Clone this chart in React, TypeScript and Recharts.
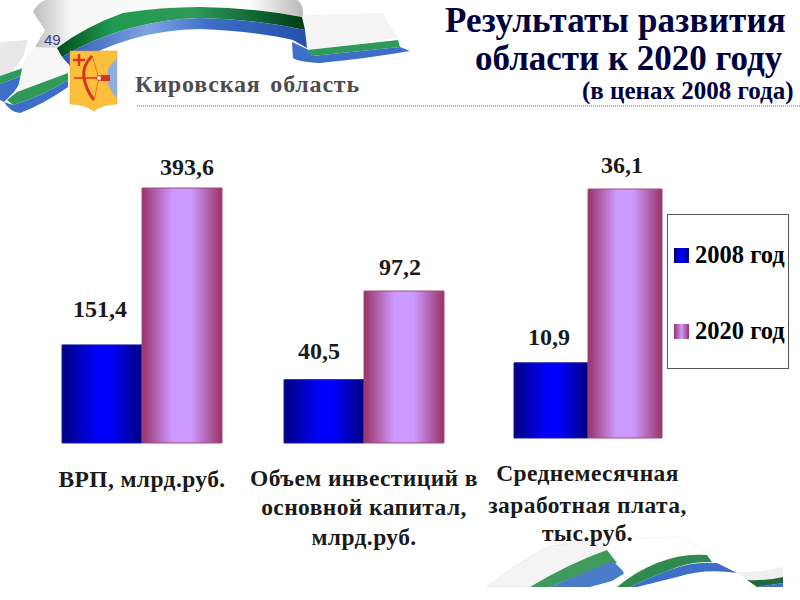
import { BarChart, Bar, XAxis, YAxis, LabelList } from 'recharts';

const categories = [
  ['ВРП, млрд.руб.'],
  ['Объем инвестиций в', 'основной капитал,', 'млрд.руб.'],
  ['Среднемесячная', 'заработная плата,', 'тыс.руб.'],
];
const values2008 = [151.4, 40.5, 10.9];
const values2020 = [393.6, 97.2, 36.1];
const seriesNames = ['2008 год', '2020 год'];

const SERIF = '"Liberation Serif", serif';

// each panel has its own scale, like the three separate charts on the slide
const panels = [
  { left: 22, top: 140, width: 240, side: 40, plotTop: 48, plotH: 255, lines: [44], off2008: [-2, -28], off2020: [5, -13] },
  { left: 244, top: 140, width: 240, side: 40, plotTop: 151, plotH: 152, lines: [43, 72, 102], off2008: [-5, -21], off2020: [-4, -16] },
  { left: 464, top: 140, width: 247, side: 50, plotTop: 49, plotH: 249, lines: [43, 75, 103], off2008: [-2, -18], off2020: [-3, -16] },
];

const fmt = (v: number) => String(v).replace('.', ',');

function valueLabel(off: number[]) {
  return (p: any) => (
    <text
      x={p.x + p.width / 2 + off[0]}
      y={p.y + off[1]}
      textAnchor="middle"
      fontFamily={SERIF}
      fontWeight="bold"
      fontSize={24}
      fill="#1a1a1a"
    >
      {fmt(p.value)}
    </text>
  );
}

function Panel({ index }: { index: number }) {
  const cfg = panels[index];
  const rows = [
    { name: String(index), a: values2008[index], b: values2020[index] },
  ];
  const lines = categories[index];
  const height = cfg.plotTop + cfg.plotH + 110;
  return (
    <div style={{ position: 'absolute', left: cfg.left, top: cfg.top }}>
      <BarChart
        width={cfg.width}
        height={height}
        data={rows}
        barGap={0}
        barCategoryGap={0}
        margin={{ top: cfg.plotTop, right: cfg.side, bottom: 0, left: cfg.side }}
      >
        <XAxis
          dataKey="name"
          height={110}
          axisLine={false}
          tickLine={false}
          interval={0}
          tick={() => (
            <g>
              {lines.map((line, i) => (
                <text
                  key={line}
                  x={cfg.width / 2}
                  y={cfg.plotTop + cfg.plotH + cfg.lines[i]}
                  textAnchor="middle"
                  fontFamily={SERIF}
                  fontWeight="bold"
                  fontSize={23.5}
                  letterSpacing={0.4}
                  fill="#1a1a1a"
                >
                  {line}
                </text>
              ))}
            </g>
          )}
        />
        <YAxis hide domain={[0, values2020[index]]} />
        <Bar dataKey="a" name={seriesNames[0]} fill="url(#blueBar)" stroke="#1a1aa0" strokeWidth={1} isAnimationActive={false}>
          <LabelList dataKey="a" content={valueLabel(cfg.off2008)} />
        </Bar>
        <Bar dataKey="b" name={seriesNames[1]} fill="url(#purpleBar)" stroke="#a04a80" strokeWidth={1} isAnimationActive={false}>
          <LabelList dataKey="b" content={valueLabel(cfg.off2020)} />
        </Bar>
      </BarChart>
    </div>
  );
}

function Decor() {
  return (
    <svg width={800} height={600} style={{ position: 'absolute', left: 0, top: 0 }}>
      <defs>
        <linearGradient id="blueBar" x1="0" y1="0" x2="1" y2="0">
          <stop offset="0%" stopColor="#00007f" />
          <stop offset="45%" stopColor="#0000ff" />
          <stop offset="60%" stopColor="#0000ff" />
          <stop offset="100%" stopColor="#00007f" />
        </linearGradient>
        <linearGradient id="purpleBar" x1="0" y1="0" x2="1" y2="0">
          <stop offset="0%" stopColor="#993366" />
          <stop offset="38%" stopColor="#cc99ff" />
          <stop offset="62%" stopColor="#cc99ff" />
          <stop offset="100%" stopColor="#993366" />
        </linearGradient>
        <linearGradient id="whiteBand" x1="0" y1="0" x2="1" y2="0">
          <stop offset="0%" stopColor="#bdbdbd" />
          <stop offset="14%" stopColor="#f6f6f6" />
          <stop offset="80%" stopColor="#ffffff" />
          <stop offset="100%" stopColor="#b8b8b8" />
        </linearGradient>
        <linearGradient id="greenBand" x1="0" y1="0" x2="1" y2="0">
          <stop offset="0%" stopColor="#004d1c" />
          <stop offset="22%" stopColor="#1f9a50" />
          <stop offset="55%" stopColor="#2f9a58" />
          <stop offset="85%" stopColor="#0c5c2c" />
          <stop offset="100%" stopColor="#003a14" />
        </linearGradient>
        <linearGradient id="blueBand" x1="0" y1="0" x2="1" y2="0">
          <stop offset="0%" stopColor="#2a58b4" />
          <stop offset="35%" stopColor="#7fa4e2" />
          <stop offset="60%" stopColor="#3d6fc8" />
          <stop offset="100%" stopColor="#234fa8" />
        </linearGradient>
      </defs>

      {/* top ribbon */}
      <path d="M0 42 L28 40 L23 57 L12 72 L0 76 Z" fill="#e8e8e8" />
      <path d="M0 76 L23 68 L26 74 L0 84 Z" fill="#2f9a58" />
      <path d="M0 84 L26 74 L14 92 L4 102 L0 100 Z" fill="#3d6fc8" />
      <path d="M35 47 L45 30 L33 12 Q38 2 46 0 L297 0 Q304 4 303 17 Q255 8 200 7 Q120 8 57 48 Q46 50 35 47 Z" fill="url(#whiteBand)" />
      <path d="M35 47 L57 48 L68 73 L17 92 L24 60 Z" fill="#f6f6f6" />
      <path d="M303 15 L383 13 L398 38 L307 50 L292 42 Z" fill="#f4f4f4" />
      <path d="M57 48 Q86 26 123 13 Q160 7 200 7 Q255 8 302 17 L305 30 Q255 19 200 18 Q125 20 62 57 Z" fill="url(#greenBand)" />
      <path d="M62 57 Q125 20 200 18 Q255 19 305 30 L307 48 L293 40 Q255 31 200 29 Q130 30 70 66 Z" fill="url(#blueBand)" />
      <path d="M307 50 L398 40 L400 47 L312 56 Z" fill="#2f9a58" />
      <path d="M292 42 L307 49 L312 56 L400 47 L410 51 Q370 58 320 63 Q298 62 293 58 Z" fill="#3d6fc8" />
      <path d="M17 92 L68 73 L68 80 Q40 97 13 105 L7 100 Z" fill="#2f9a58" />
      <path d="M13 105 Q40 97 68 80 L68 87 Q44 104 20 113 Q10 112 4 102 Z" fill="#3d6fc8" />

      {/* coat of arms */}
      <path d="M70 51 L117 51 L117 104 Q103 104 94 111 Q84 104 70 104 Z" fill="#fbbf3c" stroke="#e0a030" strokeWidth={0.5} />
      <path d="M117 59 Q106 66 107 78 Q108 90 117 98 Z" fill="#8fb0dc" />
      <path d="M79 54 V66 M73 60 H85" stroke="#d8341c" strokeWidth={2.5} />
      <path d="M92 56 Q82 66 84 78 Q86 90 94 100" fill="none" stroke="#d8341c" strokeWidth={3} />
      <path d="M74 78 H108" stroke="#d8341c" strokeWidth={1.5} />
      <path d="M92 56 L99 78 L94 100" fill="none" stroke="#e06030" strokeWidth={0.8} />
      <rect x={101} y={75} width={9} height={6} fill="#d8341c" />
      <circle cx={99} cy={78} r={2.5} fill="#f6f0e0" stroke="#d8341c" />

      {/* bottom ribbon */}
      <path d="M487 587 Q513 565 547 547 Q575 541 603 540 L607 550 Q565 565 530 587 Z" fill="#f4f4f4" stroke="#e2e2e2" strokeWidth={0.5} />
      <path d="M530 587 Q570 563 607 550 L617 563 Q585 572 550 587 Z" fill="#3f9a5c" />
      <path d="M550 587 Q585 572 613 561 L625 573 L612 581 L590 587 Z" fill="#4a7cc8" />
      <path d="M603 540 Q640 537 677 537 Q690 540 707 555 Q680 553 657 563 L625 578 Q622 560 607 550 Z" fill="#ffffff" stroke="#e6e6e6" strokeWidth={0.5} />
      <path d="M617 587 Q635 572 657 563 Q682 553 707 555 L712 562 Q690 561 670 570 Q650 577 630 587 Z" fill="#2f8a50" />
      <path d="M630 587 Q650 577 670 570 Q692 561 717 563 L737 573 Q705 568 677 577 L637 587 Z" fill="#3d6fc8" />
      <path d="M737 572 Q760 573 783 567 L783 577 Q765 581 747 580 Z" fill="#efefef" />
      <path d="M747 580 Q765 581 783 577 L783 583 L757 587 Z" fill="#1f6a3c" />
      <path d="M757 587 L783 583 L783 587 Z" fill="#3d6fc8" />

      <line x1={137} y1={106} x2={800} y2={106} stroke="#666" strokeWidth={1} strokeDasharray="1 1" />
    </svg>
  );
}

const textBase = { position: 'absolute', fontFamily: SERIF, fontWeight: 'bold', whiteSpace: 'nowrap' } as const;

export default function App() {
  return (
    <div style={{ position: 'absolute', left: 0, top: 0, width: 800, height: 600, background: '#fff', overflow: 'hidden' }}>
      <Decor />
      <div style={{ ...textBase, left: 44, top: 31, fontFamily: '"Liberation Sans", sans-serif', fontWeight: 'normal', fontSize: 15, color: '#3c3c8c' }}>49</div>
      <div style={{ ...textBase, left: 135, top: 71, fontSize: 24, color: '#4d4d4d', letterSpacing: 0.8, wordSpacing: 3 }}>Кировская область</div>
      <div style={{ ...textBase, left: 445, top: 2, fontSize: 35, color: '#000040', lineHeight: '38px', letterSpacing: 0.2 }}>Результаты развития</div>
      <div style={{ ...textBase, left: 475, top: 40, fontSize: 35, color: '#000040', lineHeight: '38px' }}>области к 2020 году</div>
      <div style={{ ...textBase, left: 582, top: 77, fontSize: 25, color: '#000040', lineHeight: '28px' }}>(в ценах 2008 года)</div>

      {panels.map((_, i) => (
        <Panel key={i} index={i} />
      ))}

      <div style={{ position: 'absolute', left: 667, top: 214, width: 120, height: 153, border: '1px solid #555', background: '#fff' }}>
        {seriesNames.map((name, i) => (
          <div key={name} style={{ ...textBase, left: 6, top: i === 0 ? 26 : 102, fontSize: 24.5, color: '#000', display: 'flex', alignItems: 'center', gap: 6 }}>
            <span
              style={{
                display: 'inline-block',
                width: 15,
                height: 15,
                background:
                  i === 0
                    ? 'linear-gradient(90deg,#00007f,#0000ff,#00007f)'
                    : 'linear-gradient(90deg,#993366,#cc99ff,#993366)',
              }}
            />
            {name}
          </div>
        ))}
      </div>
    </div>
  );
}
